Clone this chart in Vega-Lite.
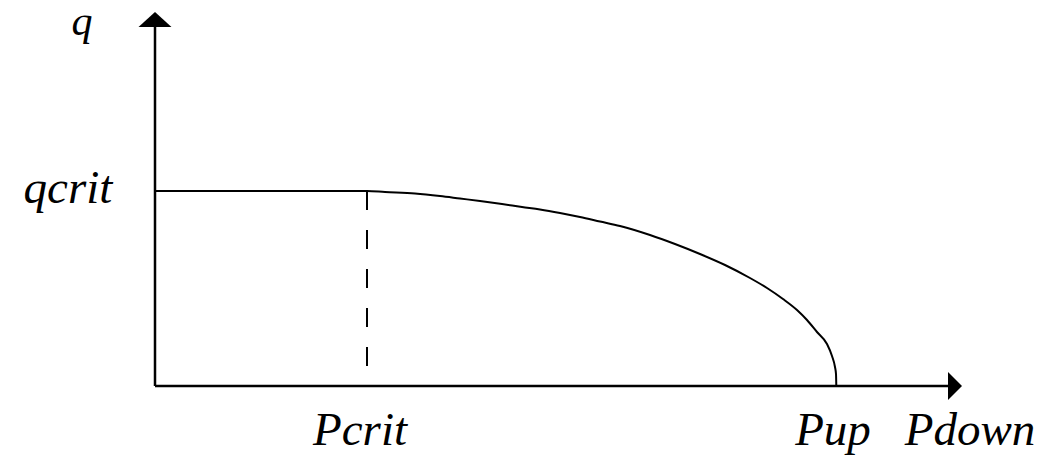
{
  "$schema": "https://vega.github.io/schema/vega-lite/v6.json",
  "width": 807,
  "height": 374,
  "autosize": {"type": "none"},
  "padding": {"left": 155, "top": 12, "right": 93, "bottom": 70},
  "background": "white",
  "config": {"view": {"stroke": null}},
  "datasets": {
    "curve": [
      {"P": 0, "q": 195}, {"P": 212, "q": 195}, {"P": 230, "q": 194}, {"P": 260, "q": 192.5},
      {"P": 285, "q": 190}, {"P": 305, "q": 187.5}, {"P": 325, "q": 185}, {"P": 347, "q": 182},
      {"P": 367, "q": 179}, {"P": 385, "q": 176.5}, {"P": 405, "q": 173}, {"P": 425, "q": 169},
      {"P": 445, "q": 164.5}, {"P": 465, "q": 160}, {"P": 495, "q": 151}, {"P": 520, "q": 142},
      {"P": 545, "q": 132}, {"P": 570, "q": 121}, {"P": 595, "q": 108}, {"P": 612, "q": 98},
      {"P": 628, "q": 87}, {"P": 642, "q": 76}, {"P": 652, "q": 66}, {"P": 662, "q": 54},
      {"P": 672, "q": 42}, {"P": 677, "q": 30}, {"P": 680, "q": 19}, {"P": 681, "q": 12}, {"P": 681.3, "q": 0}
    ],
    "axes": [
      {"name": "q axis", "P": 0, "q": 0, "P2": 0, "q2": 360},
      {"name": "P axis", "P": 0, "q": 0, "P2": 794, "q2": 0}
    ],
    "dash": [{"P": 212, "q": 195, "q2": 0}],
    "labels": [
      {"P": -87, "q": 183, "text": "qcrit"},
      {"P": 205, "q": -59, "text": "Pcrit"},
      {"P": 678, "q": -59, "text": "Pup"},
      {"P": 815, "q": -59, "text": "Pdown"}
    ],
    "topLabel": [{"P": -73, "q": 384, "text": "q"}],
    "upArrow": [{"P": 0, "q": 359}],
    "rightArrow": [{"P": 793, "q": 0}]
  },
  "layer": [
    {
      "data": {"name": "axes"},
      "mark": {"type": "rule", "color": "black", "strokeWidth": 2.5},
      "encoding": {
        "x": {"field": "P", "type": "quantitative", "scale": {"domain": [0, 807], "nice": false, "zero": false}, "axis": null},
        "y": {"field": "q", "type": "quantitative", "scale": {"domain": [0, 374], "nice": false, "zero": false}, "axis": null},
        "x2": {"field": "P2"},
        "y2": {"field": "q2"}
      }
    },
    {
      "data": {"name": "dash"},
      "mark": {"type": "rule", "color": "black", "strokeWidth": 2, "strokeDash": [19, 20]},
      "encoding": {
        "x": {"field": "P", "type": "quantitative"},
        "y": {"field": "q", "type": "quantitative"},
        "y2": {"field": "q2"}
      }
    },
    {
      "data": {"name": "curve"},
      "mark": {"type": "line", "color": "black", "strokeWidth": 2, "interpolate": "monotone"},
      "encoding": {
        "x": {"field": "P", "type": "quantitative"},
        "y": {"field": "q", "type": "quantitative"},
        "order": {"value": 0}
      }
    },
    {
      "data": {"name": "upArrow"},
      "mark": {"type": "point", "filled": true, "color": "black", "opacity": 1, "size": 1024, "shape": "M-1.03,0L0,-0.94L1.03,0Z"},
      "encoding": {
        "x": {"field": "P", "type": "quantitative"},
        "y": {"field": "q", "type": "quantitative"}
      }
    },
    {
      "data": {"name": "rightArrow"},
      "mark": {"type": "point", "filled": true, "color": "black", "opacity": 1, "size": 1024, "shape": "M0,-0.875L0.875,0L0,0.875Z"},
      "encoding": {
        "x": {"field": "P", "type": "quantitative"},
        "y": {"field": "q", "type": "quantitative"}
      }
    },
    {
      "data": {"name": "labels"},
      "mark": {"type": "text", "font": "Liberation Serif", "fontStyle": "italic", "fontSize": 47, "align": "center", "baseline": "alphabetic", "color": "black"},
      "encoding": {
        "x": {"field": "P", "type": "quantitative"},
        "y": {"field": "q", "type": "quantitative"},
        "text": {"field": "text"}
      }
    },
    {
      "data": {"name": "topLabel"},
      "mark": {"type": "text", "font": "Liberation Serif", "fontStyle": "italic", "fontSize": 42, "align": "center", "baseline": "top", "color": "black"},
      "encoding": {
        "x": {"field": "P", "type": "quantitative"},
        "y": {"field": "q", "type": "quantitative"},
        "text": {"field": "text"}
      }
    }
  ]
}
